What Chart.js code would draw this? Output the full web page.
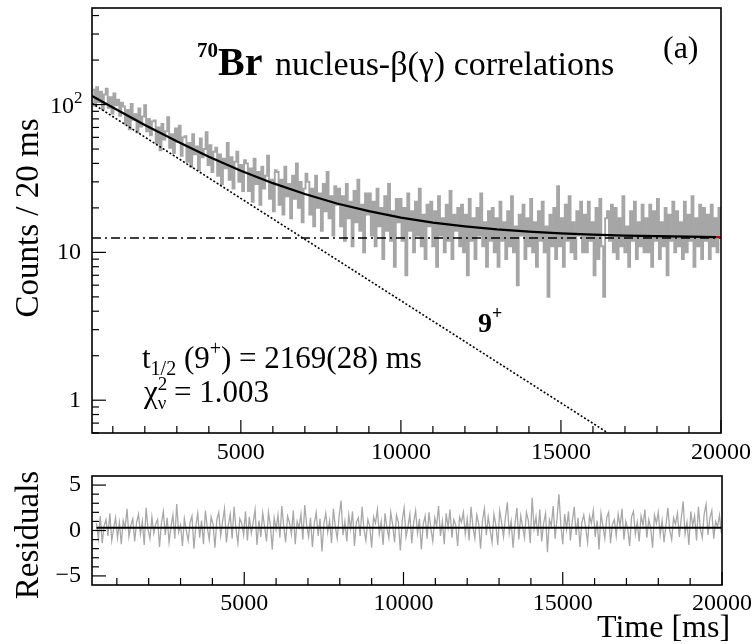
<!DOCTYPE html>
<html>
<head>
<meta charset="utf-8">
<script src="https://cdn.jsdelivr.net/npm/chart.js@4.4.1/dist/chart.umd.min.js"></script>
<style>
  html, body { margin: 0; padding: 0; background: #fff; }
  #wrap { position: relative; width: 754px; height: 644px; }
  canvas { position: absolute; left: 0; }
  #top { top: 0; }
  #bot { top: 460px; }
</style>
</head>
<body>
<div id="wrap">
  <canvas id="top" width="754" height="470"></canvas>
  <canvas id="bot" width="754" height="184"></canvas>
</div>
<script>
// histogram bins (ms)
const binStart = 360;
const binWidth = 60;

// counts per bin
const counts = [
  126, 98, 131, 104, 122, 93, 117, 128, 95, 112, 87, 119, 99, 108, 84, 103,
  97, 74, 92, 68, 101, 79, 86, 65, 94, 71, 83, 99, 66, 80, 62, 77,
  78, 55, 70, 49, 74, 58, 66, 82, 51, 63, 47, 69, 56, 72, 45, 60,
  61, 41, 55, 38, 63, 46, 52, 36, 59, 44, 50, 65, 39, 53, 35, 48,
  51, 33, 46, 29, 43, 37, 55, 31, 44, 27, 41, 48, 30, 39, 26, 42,
  40, 26, 37, 22, 43, 29, 35, 21, 38, 27, 33, 45, 23, 31, 19, 36,
  35, 21, 31, 18, 38, 24, 29, 17, 33, 23, 40, 20, 30, 16, 27, 34,
  30, 18, 27, 15, 33, 20, 25, 14, 29, 19, 35, 17, 24, 13, 28, 21,
  27, 15, 24, 12, 29, 17, 22, 11, 26, 16, 31, 14, 21, 10, 25, 18,
  25, 13, 22, 11, 27, 15, 20, 9, 24, 14, 29, 12, 19, 8, 23, 16,
  23, 12, 20, 7, 25, 14, 19, 10, 22, 13, 27, 11, 18, 9, 21, 15,
  22, 11, 19, 8, 24, 13, 17, 10, 21, 12, 26, 9, 18, 14, 20, 11,
  21, 10, 18, 7, 23, 12, 17, 9, 20, 13, 25, 11, 16, 8, 19, 12,
  20, 10, 17, 8, 22, 12, 16, 9, 19, 11, 24, 10, 15, 6, 18, 13,
  21, 9, 17, 11, 23, 10, 16, 8, 19, 12, 22, 10, 15, 5, 18, 11,
  20, 9, 28, 11, 17, 8, 21, 12, 24, 10, 16, 9, 19, 13, 22, 10,
  18, 10, 22, 12, 16, 7, 20, 9, 23, 11, 5, 17, 19, 12, 21, 10,
  20, 9, 17, 11, 24, 10, 15, 8, 19, 12, 22, 9, 16, 11, 21, 10,
  17, 10, 21, 8, 19, 12, 23, 9, 16, 11, 20, 7, 18, 12, 22, 10,
  19, 11, 16, 9, 22, 10, 18, 12, 24, 8, 17, 11, 21, 9, 20, 12,
  18, 9, 21, 11, 17, 10, 20, 13
];

// residuals per bin
const residuals = [
  0.8, -0.9, 1.6, -1.4, 0.5, 1.2, -0.6, 1.9, -1.1, 0.2, 1.4, -0.8, 0.9, -1.5, 1.1, 0.3,
  2.4, -0.7, 0.6, 1.3, -1.2, 0.9, 1.8, -0.4, 1.0, -1.6, 2.5, 0.1, -0.9, 1.5, -0.3, 0.7,
  1.2, -1.8, 0.8, 2.1, -0.5, 1.4, -1.3, 0.4, 1.7, -0.9, 2.9, -0.2, 0.6, -1.7, 1.3, 0.0,
  -1.1, 0.9, 1.6, -2.0, 0.5, 1.9, -0.8, 1.1, -1.5, 2.2, 0.3, -1.0, 1.5, 0.7, -1.9, 1.2,
  2.0, -0.6, 1.0, 2.4, -1.3, 0.6, 1.8, -0.9, 2.6, 0.2, -1.4, 1.3, 0.8, -0.5, 2.1, -1.1,
  1.5, -0.3, 0.9, 2.3, -1.6, 1.1, -0.7, 1.9, 0.4, -1.2, 2.0, 0.6, -2.1, 1.4, 0.1, 1.7,
  -0.8, 2.7, 0.5, -1.3, 1.6, 0.9, -0.4, 2.2, -1.5, 1.0, 0.3, 1.8, -1.0, 2.8, 0.6, -0.7,
  1.4, -1.8, 0.8, 2.0, -0.6, 1.3, -2.3, 0.7, 1.9, -0.2, 1.1, -1.4, 2.4, 0.4, -0.9, 1.6,
  3.3, -0.5, 1.0, -1.2, 1.7, 0.2, 2.1, -1.7, 0.9, 1.4, -0.6, 2.6, 0.1, -1.1, 1.2, 0.5,
  -1.9, 1.5, 0.8, 2.3, -0.4, 1.0, -1.6, 1.9, 0.3, -0.8, 2.0, 0.6, -1.3, 1.7, 0.9, -2.2,
  1.1, 2.5, -0.7, 0.4, 1.8, -1.4, 0.9, 2.2, -0.3, 1.3, -2.1, 0.7, 1.6, -0.9, 2.0, 0.2,
  -1.2, 1.4, 0.5, 2.7, -0.6, 1.0, -1.5, 1.9, 0.3, 2.3, -0.8, 1.2, 0.6, -1.7, 1.5, 0.9,
  2.0, -0.4, 1.3, -1.1, 2.6, 0.4, -0.9, 1.7, 0.8, -2.0, 1.1, 2.4, -0.5, 1.5, 0.1, -1.3,
  1.8, 0.6, -1.6, 2.2, 0.9, -0.7, 1.4, 3.1, -0.3, 1.0, -1.9, 0.7, 2.5, -1.0, 1.6, 0.4,
  -0.8, 2.0, 1.1, -1.4, 3.6, 0.2, 1.5, -0.6, 2.3, -1.2, 0.8, 1.9, -2.4, 1.2, 0.5, 2.7,
  -0.9, 1.3, 4.0, 0.6, -1.5, 1.8, 0.1, 2.1, -1.1, 1.0, 2.6, -0.5, 1.4, -1.8, 0.9, 1.7,
  0.3, -1.3, 1.6, 0.8, 2.2, -0.7, 1.1, -2.1, 1.9, 0.5, -0.9, 1.4, 2.0, -1.4, 0.7, 1.2,
  -0.6, 1.8, 0.4, 2.4, -1.0, 1.0, 0.2, -1.7, 1.5, 2.1, -0.4, 0.9, -1.2, 1.6, 0.6, 2.3,
  -0.8, 1.2, 0.3, -1.9, 1.7, 0.8, 2.0, -0.5, 1.1, -1.3, 0.6, 2.5, 0.0, -1.0, 1.4, 0.7,
  1.9, -0.7, 1.3, 3.2, -0.4, 0.9, -1.6, 2.1, 0.5, 1.6, -1.1, 2.6, 0.2, -0.8, 1.8, 2.9,
  -0.5, 1.4, 2.2, -0.9, 1.0, 0.4, 1.7, -0.3
];

// fitted curve (solid black)
const fitTimes  = [350, 1000, 2000, 3000, 4000, 5000, 6000, 7000, 8000, 9000, 10000,
                   11000, 12000, 13000, 14000, 15000, 16000, 17000, 18000, 19000, 19850];
const fitCounts = [114.5, 95.4, 72.8, 56.4, 44.4, 35.7, 29.4, 24.8, 21.4, 19.0, 17.2,
                   15.9, 15.0, 14.3, 13.8, 13.46, 13.2, 13.0, 12.87, 12.77, 12.7];
const fitEndTimes  = [19850, 20000];
const fitEndCounts = [12.7, 12.7];

// 9+ decay component (dotted) and constant background (dash-dot)
const compTimes  = [350, 16470];
const compCounts = [102, 0.6];
const bgTimes  = [350, 20000];
const bgCounts = [12.5, 12.5];

// residual baseline
const resLineTimes  = [360, 19980];
const resLineValues = [0.3, 0.3];

// axes
const xMinTop = 350, xMaxTop = 20000;
const xMinBot = 220, xMaxBot = 20000;
const yMinTop = 0.6, yMaxTop = 450;
const yMinBot = -6, yMaxBot = 6;
const xTickValues = [5000, 10000, 15000, 20000];
const yTickValues = [1, 10, 100];
const yTickLabels = ['1', '10', ''];   // 10^2 drawn with a real superscript below
const resTickValues = [-5, 0, 5];
const resTickLabels = ['\u22125', '0', '5'];

const SERIF = '"Liberation Serif", "DejaVu Serif", serif';

function pts(xs, ys) { return xs.map((x, i) => ({ x: x, y: ys[i] })); }
const histPts = counts.map((c, i) => ({ x: binStart + i * binWidth, y: c }));
const resPts = residuals.map((r, i) => ({ x: binStart + i * binWidth, y: r }));

function rich(ctx, x, y, parts) {
  for (const p of parts) {
    ctx.font = p.f;
    ctx.fillText(p.t, x, y + (p.dy || 0));
    if (!p.stack) x += ctx.measureText(p.t).width;
  }
  return x;
}

function line(ctx, x1, y1, x2, y2) {
  ctx.beginPath(); ctx.moveTo(x1, y1); ctx.lineTo(x2, y2); ctx.stroke();
}

function xTicksInside(chart, from, to) {
  const ctx = chart.ctx, ca = chart.chartArea, xs = chart.scales.x;
  for (let t = from; t <= to; t += 1000) {
    const px = xs.getPixelForValue(t);
    if (px < ca.left || px > ca.right) continue;
    const len = t % 5000 === 0 ? 13 : 7;
    line(ctx, px, ca.bottom, px, ca.bottom - len);
  }
}

const topDeco = {
  id: 'topDeco',
  afterDraw(chart) {
    const ctx = chart.ctx, ca = chart.chartArea, ys = chart.scales.y;
    ctx.save();
    ctx.strokeStyle = '#000';
    ctx.lineWidth = 1.2;
    xTicksInside(chart, 1000, 20000);
    for (let d = -1; d <= 2; d++) {
      for (let m = 1; m <= 9; m++) {
        const v = m * Math.pow(10, d);
        if (v < yMinTop || v > yMaxTop) continue;
        const py = ys.getPixelForValue(v);
        line(ctx, ca.left, py, ca.left + (m === 1 ? 14 : 7), py);
      }
    }
    ctx.lineWidth = 1.6;
    ctx.strokeRect(ca.left, ca.top, ca.right - ca.left, ca.bottom - ca.top);

    ctx.fillStyle = '#000';
    ctx.textBaseline = 'alphabetic';
    ctx.textAlign = 'left';
    // 10^2 tick label
    const p100 = ys.getPixelForValue(100);
    rich(ctx, 50, p100 + 8, [
      { t: '10', f: '24px ' + SERIF },
      { t: '2', f: '17px ' + SERIF, dy: -10 }
    ]);
    rich(ctx, 197, 57, [{ t: '70', f: 'bold 21px ' + SERIF }]);
    rich(ctx, 218, 75, [{ t: 'Br', f: 'bold 40px ' + SERIF }]);
    rich(ctx, 275, 75, [{ t: 'nucleus-\u03B2(\u03B3) correlations', f: '34px ' + SERIF }]);
    ctx.font = '32px ' + SERIF;
    ctx.fillText('(a)', 663, 58);
    rich(ctx, 478, 332, [
      { t: '9', f: 'bold 28px ' + SERIF },
      { t: '+', f: 'bold 18px ' + SERIF, dy: -13 }
    ]);
    rich(ctx, 142, 368, [
      { t: 't', f: '31px ' + SERIF },
      { t: '1/2', f: '20px ' + SERIF, dy: 7 },
      { t: ' (9', f: '31px ' + SERIF },
      { t: '+', f: '20px ' + SERIF, dy: -13 },
      { t: ') = 2169(28) ms', f: '31px ' + SERIF }
    ]);
    rich(ctx, 144, 402, [
      { t: '\u03C7', f: '31px ' + SERIF },
      { t: '2', f: '19px ' + SERIF, dy: -12, stack: true },
      { t: '\u03BD', f: '19px ' + SERIF, dy: 7 },
      { t: ' = 1.003', f: '31px ' + SERIF }
    ]);
    ctx.save();
    ctx.translate(29, 218);
    ctx.rotate(-Math.PI / 2);
    ctx.textAlign = 'center';
    ctx.textBaseline = 'middle';
    ctx.font = '33px ' + SERIF;
    ctx.fillText('Counts / 20 ms', 0, 0);
    ctx.restore();
    ctx.restore();
  }
};

const botDeco = {
  id: 'botDeco',
  afterDraw(chart) {
    const ctx = chart.ctx, ca = chart.chartArea, ys = chart.scales.y;
    ctx.save();
    ctx.strokeStyle = '#000';
    ctx.lineWidth = 1.2;
    xTicksInside(chart, 1000, 20000);
    for (let v = -5; v <= 5; v++) {
      const py = ys.getPixelForValue(v);
      line(ctx, ca.left, py, ca.left + (v % 5 === 0 ? 14 : 7), py);
    }
    ctx.lineWidth = 1.6;
    ctx.strokeRect(ca.left, ca.top, ca.right - ca.left, ca.bottom - ca.top);
    ctx.fillStyle = '#000';
    ctx.save();
    ctx.translate(29, 75);
    ctx.rotate(-Math.PI / 2);
    ctx.textAlign = 'center';
    ctx.textBaseline = 'middle';
    ctx.font = '33px ' + SERIF;
    ctx.fillText('Residuals', 0, 0);
    ctx.restore();
    ctx.font = '32px ' + SERIF;
    ctx.textAlign = 'left';
    ctx.textBaseline = 'alphabetic';
    ctx.fillText('Time [ms]', 597, 177);
    ctx.restore();
  }
};

const tickFont = { family: SERIF, size: 24 };

new Chart(document.getElementById('top'), {
  type: 'scatter',
  data: {
    datasets: [
      { data: pts(fitTimes, fitCounts), showLine: true, borderColor: '#000', borderWidth: 2.2, pointRadius: 0, order: 1 },
      { data: pts(fitEndTimes, fitEndCounts), showLine: true, borderColor: '#e00000', borderWidth: 2.2, pointRadius: 0, order: 2 },
      { data: pts(compTimes, compCounts), showLine: true, borderColor: '#000', borderWidth: 1.6, borderDash: [2, 2], pointRadius: 0, order: 3 },
      { data: pts(bgTimes, bgCounts), showLine: true, borderColor: '#000', borderWidth: 1.6, borderDash: [9, 4, 2, 4], pointRadius: 0, order: 4 },
      { data: histPts, showLine: true, stepped: true, borderColor: '#a6a6a6', borderWidth: 1.9, pointRadius: 0, order: 5 }
    ]
  },
  options: {
    responsive: false,
    animation: false,
    layout: { padding: { top: 8, right: 33, left: 0, bottom: 0 } },
    plugins: { legend: { display: false }, tooltip: { enabled: false } },
    scales: {
      x: {
        type: 'linear', min: xMinTop, max: xMaxTop,
        grid: { display: false, drawTicks: false },
        border: { display: false },
        afterBuildTicks: s => { s.ticks = xTickValues.map(v => ({ value: v })); },
        afterFit: s => { s.height = 37; s.paddingLeft = 0; s.paddingRight = 0; },
        ticks: { color: '#000', font: tickFont, padding: 5, maxRotation: 0, autoSkip: false,
                 callback: v => String(v) }
      },
      y: {
        type: 'logarithmic', min: yMinTop, max: yMaxTop,
        grid: { display: false, drawTicks: false },
        border: { display: false },
        afterBuildTicks: s => { s.ticks = yTickValues.map(v => ({ value: v })); },
        afterFit: s => { s.width = 92; s.paddingTop = 0; s.paddingBottom = 0; },
        ticks: { color: '#000', font: tickFont, padding: 11, autoSkip: false,
                 callback: v => yTickLabels[yTickValues.indexOf(v)] }
      }
    }
  },
  plugins: [topDeco]
});

new Chart(document.getElementById('bot'), {
  type: 'scatter',
  data: {
    datasets: [
      { data: pts(resLineTimes, resLineValues), showLine: true, borderColor: '#000', borderWidth: 2, pointRadius: 0, order: 1 },
      { data: resPts, showLine: true, borderColor: '#a8a8a8', borderWidth: 1.3, pointRadius: 0, order: 2 }
    ]
  },
  options: {
    responsive: false,
    animation: false,
    layout: { padding: { top: 16, right: 32, left: 0, bottom: 0 } },
    plugins: { legend: { display: false }, tooltip: { enabled: false } },
    scales: {
      x: {
        type: 'linear', min: xMinBot, max: xMaxBot,
        grid: { display: false, drawTicks: false },
        border: { display: false },
        afterBuildTicks: s => { s.ticks = xTickValues.map(v => ({ value: v })); },
        afterFit: s => { s.height = 59; s.paddingLeft = 0; s.paddingRight = 0; },
        ticks: { color: '#000', font: tickFont, padding: 4, maxRotation: 0, autoSkip: false,
                 callback: v => String(v) }
      },
      y: {
        type: 'linear', min: yMinBot, max: yMaxBot,
        grid: { display: false, drawTicks: false },
        border: { display: false },
        afterBuildTicks: s => { s.ticks = resTickValues.map(v => ({ value: v })); },
        afterFit: s => { s.width = 92; s.paddingTop = 0; s.paddingBottom = 0; },
        ticks: { color: '#000', font: tickFont, padding: 11, autoSkip: false,
                 callback: v => resTickLabels[resTickValues.indexOf(v)] }
      }
    }
  },
  plugins: [botDeco]
});
</script>
</body>
</html>
